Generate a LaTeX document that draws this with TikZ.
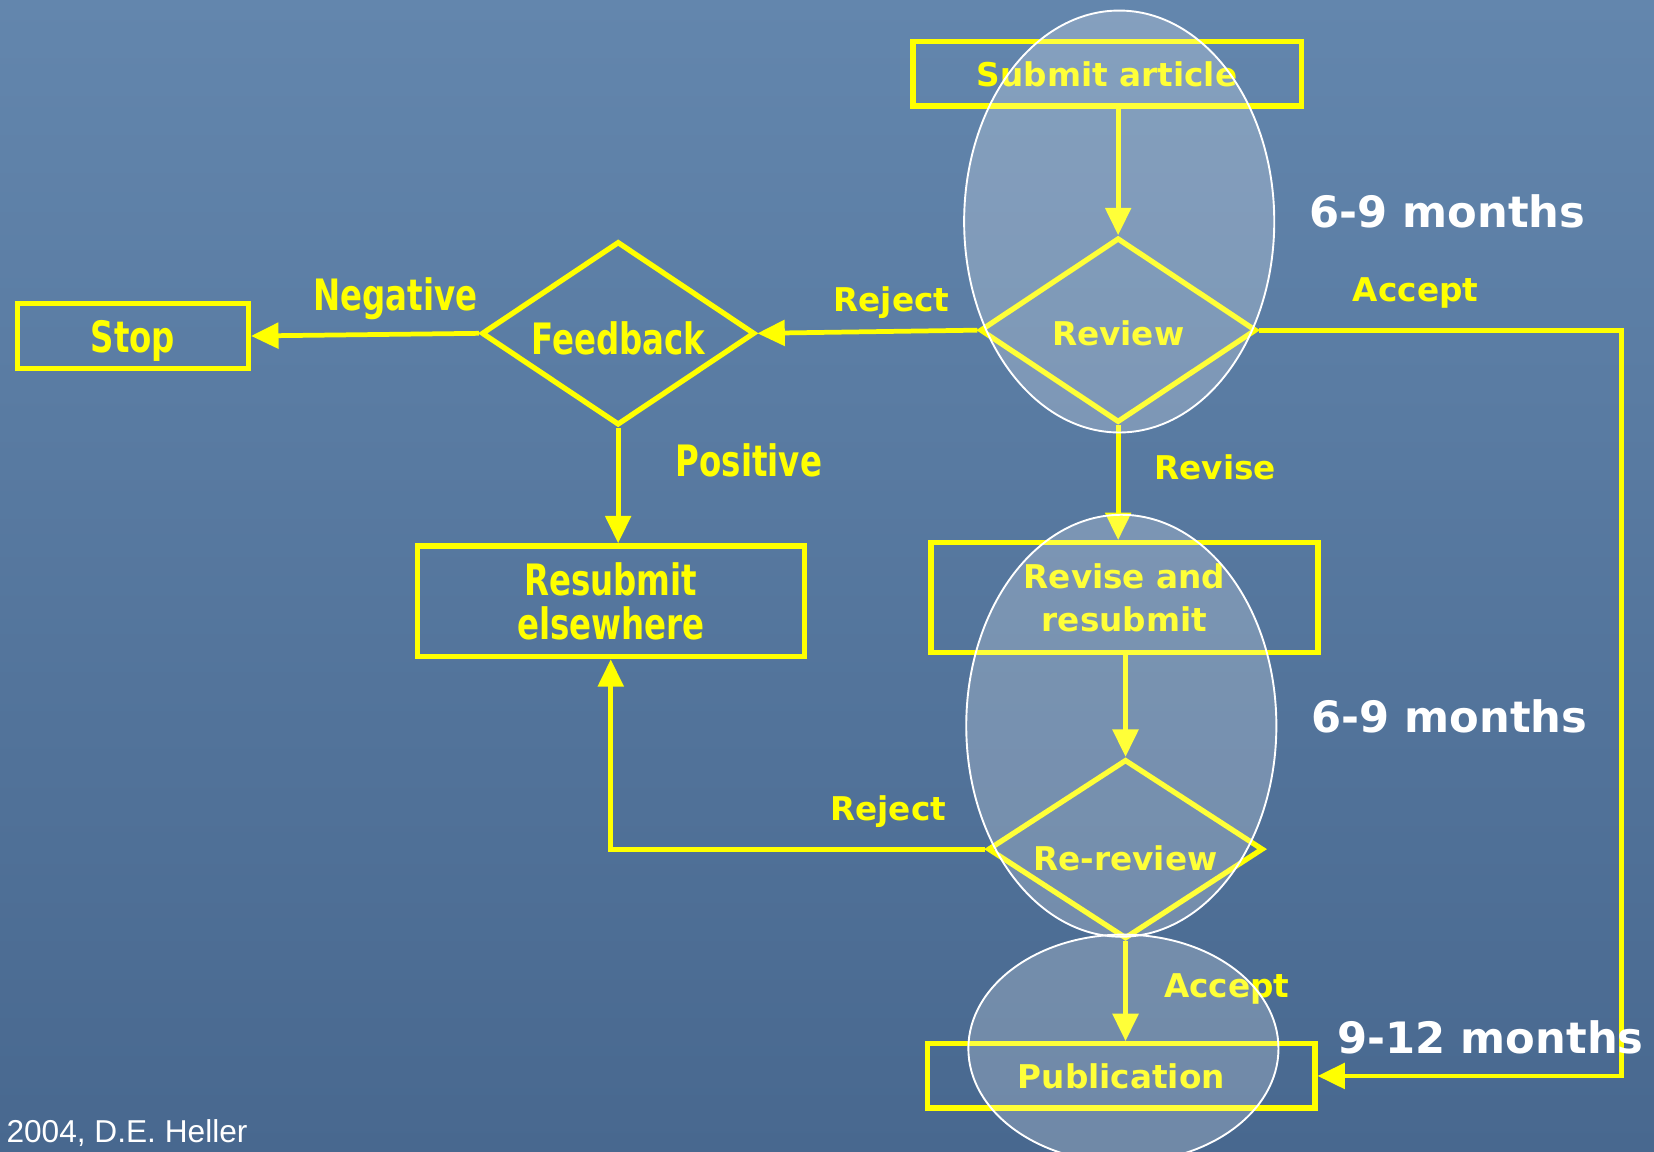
\documentclass[tikz,border=0pt]{standalone}
\usepackage{fontspec}
\usetikzlibrary{shapes.geometric,arrows.meta}
\newfontfamily\dvs{DejaVu Sans}
\newfontfamily\lbs{Liberation Sans}
\definecolor{bgtop}{RGB}{99,134,173}
\definecolor{bgbot}{RGB}{72,104,143}
\definecolor{ylw}{RGB}{255,255,0}
\newcommand\yfnt{\dvs\bfseries\fontsize{31}{41}\selectfont}
\newcommand\cfnt{\dvs\bfseries\fontsize{41}{42}\selectfont}
\newcommand\wfnt{\dvs\bfseries\fontsize{41}{48}\selectfont}
\newcommand\ffnt{\lbs\fontsize{30}{36}\selectfont}
\newcommand\cond[1]{\scalebox{0.75}[1]{#1}}
\tikzset{
  box/.style={draw=ylw, line width=5pt, rectangle, inner sep=0pt, text=ylw, font=\yfnt, align=center},
  dec/.style={draw=ylw, line width=5pt, diamond, shape aspect=1.5, inner sep=0pt, text=ylw, font=\yfnt},
  conn/.style={draw=ylw, line width=4.5pt, -{Triangle[length=26pt,width=24pt]}},
  ylab/.style={text=ylw, font=\yfnt, anchor=base, inner sep=0pt},
  clab/.style={text=ylw, font=\cfnt, anchor=base, inner sep=0pt},
  tlab/.style={text=white, font=\wfnt, anchor=base, inner sep=0pt},
  halo/.style={ellipse, inner sep=0pt, fill=white, fill opacity=0.22, draw=white, draw opacity=1, line width=1.8pt},
}
\begin{document}
\begin{tikzpicture}[x=1pt,y=-1pt]
\useasboundingbox (0,0) rectangle (1568,1092);
\shade[top color=bgtop, bottom color=bgbot] (0,0) rectangle (1568,1092);

% boxes
\node[box, minimum width=368pt, minimum height=61pt] (submit) at (1049.5,70) {Submit article};
\node[box, minimum width=219pt, minimum height=62pt, font=\cfnt, text depth=0pt] (stop) at (126,318.5) {\cond{Stop}};
\node[box, minimum width=367pt, minimum height=105pt, font=\cfnt] (resub) at (579,570) {\cond{Resubmit}\\\cond{elsewhere}};
\node[box, minimum width=367pt, minimum height=104pt] (revise) at (1066,566.5) {Revise and\\resubmit};
\node[box, minimum width=367pt, minimum height=61pt] (pub) at (1063,1020) {Publication};

% decisions
\node[dec, minimum width=262pt, minimum height=175pt, text height=29pt, text depth=0pt] (review) at (1060,313) {Review};
\node[dec, minimum width=259pt, minimum height=174pt, font=\cfnt, text height=40pt, text depth=0pt] (feed) at (586,316) {\cond{Feedback}};
\node[dec, minimum width=261pt, minimum height=170pt, text height=41pt, text depth=0pt] (rerev) at (1067,805) {Re-review};

\coordinate (rc) at (1537,313);

% connectors
\draw[conn] (submit.south -| review.north) -- (review.north);
\draw[conn] (review.west) -- (feed.east);
\draw[conn] (feed.west) -- (stop.east);
\draw[conn] (feed.south) -- (feed.south |- resub.north);
\draw[conn] (review.south) -- (review.south |- revise.north);
\draw[conn] (revise.south -| rerev.north) -- (rerev.north);
\draw[conn] (rerev.west) -| (resub.south);
\draw[conn] (rerev.south) -- (rerev.south |- pub.north);
\draw[conn] (review.east) -- (review.east -| rc) |- (pub.east);

% edge labels
\node[ylab] (lrej1) at (845,295) {Reject};
\node[clab] (lneg) at (375,294) {\cond{Negative}};
\node[clab] (lpos) at (710,452) {\cond{Positive}};
\node[ylab] (lrev) at (1152,455) {Revise};
\node[ylab] (lacc1) at (1342,286) {Accept};
\node[ylab] (lrej2) at (842,778) {Reject};
\node[ylab] (lacc2) at (1163,946) {Accept};

% halos
\node[halo, minimum width=294pt, minimum height=400pt] (e1) at (1061,210) {};
\node[halo, minimum width=294pt, minimum height=400pt] (e2) at (1063,688) {};
\node[halo, minimum width=294pt, minimum height=216pt] (e3) at (1065,994) {};

% time labels
\node[tlab] (t1) at (1372,216) {6-9 months};
\node[tlab] (t2) at (1374,694) {6-9 months};
\node[tlab] (t3) at (1413,999) {9-12 months};

\node[text=white, font=\ffnt, anchor=base west, inner sep=0pt] (foot) at (6,1083) {2004, D.E. Heller};
\end{tikzpicture}
\end{document}
